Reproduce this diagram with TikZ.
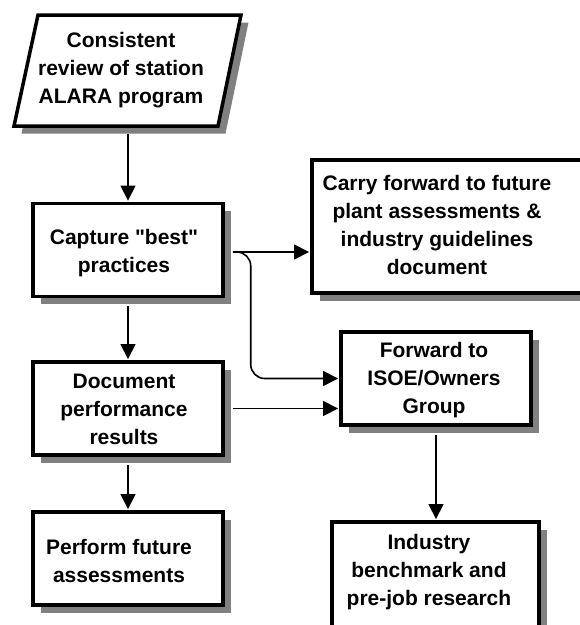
\documentclass[tikz,border=0pt]{standalone}
\usepackage{fontspec}
\setmainfont{Liberation Sans}
\newfontfamily\labfont{Liberation Sans}
\usetikzlibrary{arrows.meta,shadows}
\definecolor{shadowgray}{gray}{0.5}
\begin{document}
\begin{tikzpicture}[x=1pt,y=-1pt,
  boxline/.style={line width=3.5pt},
  shad/.style={drop shadow={shadow xshift=7.5pt,shadow yshift=-7.5pt,fill=shadowgray,opacity=1}},
  box/.style={draw,boxline,fill=white,rectangle,inner sep=0pt,shad},
  ghost/.style={rectangle,inner sep=0pt},
  lbl/.style={font=\labfont\bfseries\fontsize{21}{28}\selectfont,align=center,inner sep=0pt},
  conn/.style={line width=1.6pt,-{Triangle[length=15pt,width=15pt]},shorten >=1.2pt},
]
\useasboundingbox (0,0) rectangle (580,625);
\clip (0,0) rectangle (580,625);

% parallelogram
\draw[boxline,fill=white,shad] (38,15) -- (241,15) -- (218,126) -- (14,126) -- cycle;
\node[ghost,minimum width=200pt,minimum height=111pt] (rev) at (128,70.5) {};
\node[lbl] (revt) at (121,70.5) {Consistent\\review of station\\ALARA program};

% boxes
\node[box,minimum width=190pt,minimum height=93pt] (cap) at (128,250) {};
\node[lbl] (capt) at (124,253) {Capture "best"\\practices};

\node[box,minimum width=190pt,minimum height=93pt] (doc) at (128,408.5) {};
\node[lbl] (doct) at (124,409.5) {Document\\performance\\results};

\node[box,minimum width=190pt,minimum height=93pt] (perf) at (128,558.5) {};
\node[lbl] (perft) at (119,560.5) {Perform future\\assessments};

\node[box,minimum width=290pt,minimum height=133pt] (carry) at (457,226.5) {};
\node[lbl] (carryt) at (437,225) {Carry forward to future\\plant assessments \&\\industry guidelines\\document};

\node[box,minimum width=190pt,minimum height=93pt] (fwd) at (436,378.5) {};
\node[lbl] (fwdt) at (434,380.5) {Forward to\\ISOE/Owners\\Group};

\node[box,minimum width=207pt,minimum height=130pt] (ind) at (435.5,587) {};
\node[lbl] (indt) at (429,572) {Industry\\benchmark and\\pre-job research};

% connectors
\draw[conn] ([yshift=-8pt]rev.south) -- (cap.north);
\draw[conn] ([yshift=-8pt]cap.south) -- (doc.north);
\draw[conn] ([yshift=-8pt]doc.south) -- (perf.north);
\draw[conn] ([xshift=8pt,yshift=-2pt]cap.east) -- ([yshift=-2pt]carry.west |- cap.east);
\draw[conn,rounded corners=14pt] ([xshift=8pt,yshift=-2pt]cap.east) -- ++(18,0) |- (fwd.west);
\draw[conn] ([xshift=8pt]doc.east) -- (fwd.west |- doc.east);
\draw[conn] ([yshift=-8pt]fwd.south) -- (fwd.south |- ind.north);
\end{tikzpicture}
\end{document}
